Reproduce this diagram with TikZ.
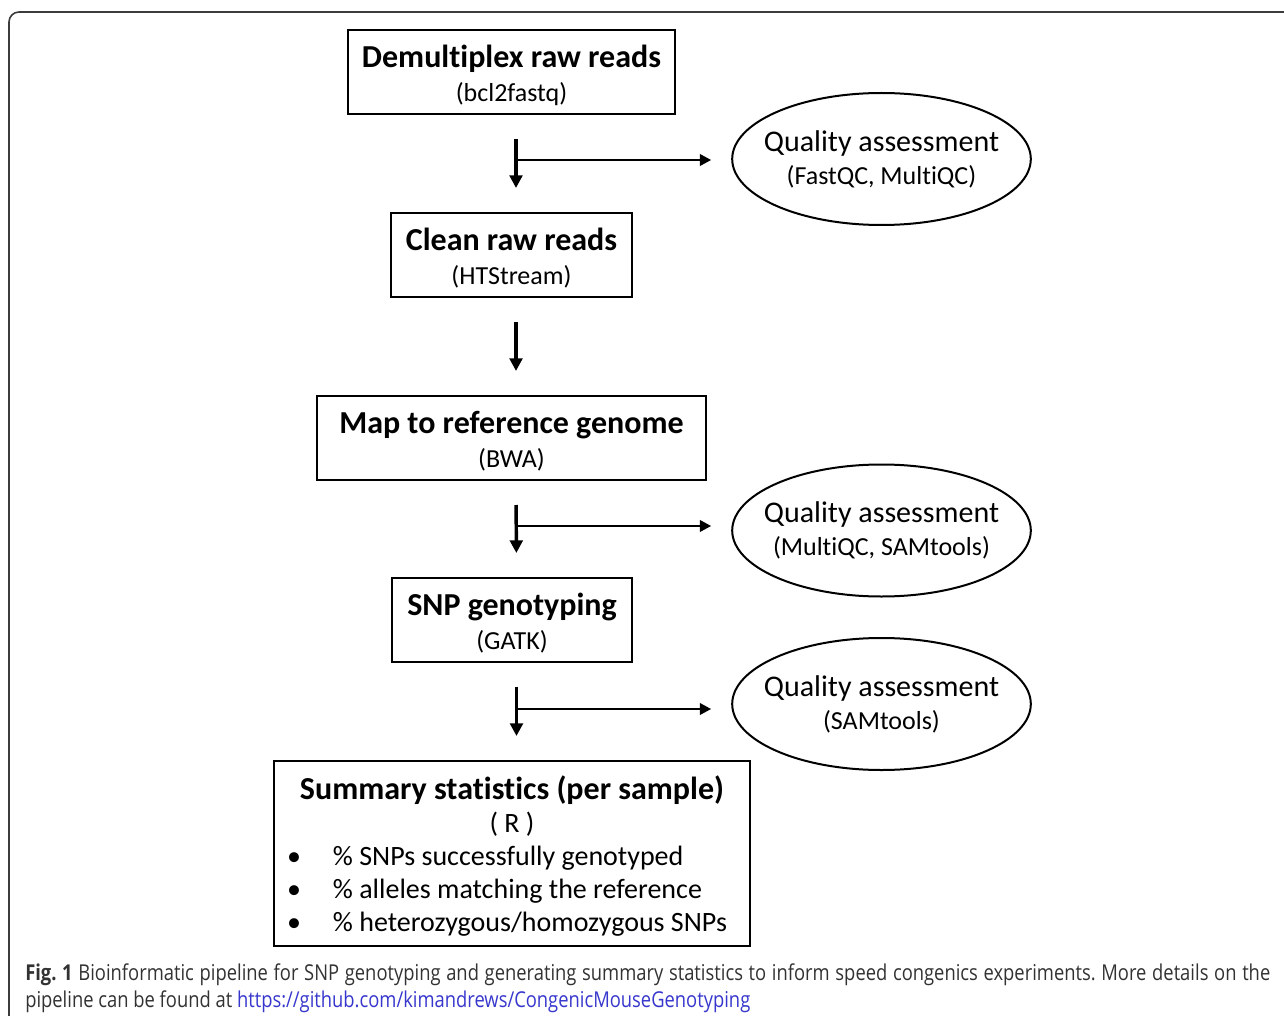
\documentclass[tikz,border=0pt]{standalone}
\usepackage{fontspec}
\setmainfont{Carlito}[Ligatures=NoCommon]
\newfontfamily\capfont[FakeStretch=0.84]{Open Sans}
\usetikzlibrary{
	arrows.meta,
	calc,
	positioning,
	shapes.geometric
}
\frenchspacing
\definecolor{framegray}{RGB}{60,60,60}
\definecolor{capgray}{RGB}{50,50,50}
\definecolor{linkblue}{RGB}{55,55,205}
\tikzset{
	stepbox/.style={draw,line width=1.5pt,rectangle,align=center,inner sep=0pt,minimum height=63pt,font=\fontsize{19.5}{25.5}\selectfont},
	qabox/.style={draw,line width=1.5pt,ellipse,align=center,inner xsep=-9pt,inner ysep=0pt,minimum width=222.75pt,minimum height=99pt,font=\fontsize{19.5}{24.75}\selectfont},
	vflow/.style={line width=2.6pt,-{Triangle[width=9.5pt,length=9.5pt]},shorten <=18pt,shorten >=18pt},
	hflow/.style={line width=2pt,-{Triangle[width=8.5pt,length=8.5pt]},shorten >=15pt},
	captext/.style={align=left,inner sep=0pt,text=capgray,font=\capfont\fontsize{16.4}{20.25}\selectfont}
}
\newcommand{\steptitle}[1]{{\fontsize{24}{25.5}\selectfont\bfseries\rule{0pt}{21.5pt}#1}}
\newcommand{\qatitle}[1]{{\fontsize{22.5}{24.75}\selectfont #1}}

\begin{document}
\begin{tikzpicture}[x=0.75pt,y=-0.75pt]
	\useasboundingbox (0,0) rectangle (1284,1016);
	\begin{scope}
		\clip (0,0) rectangle (1284,1016);
		\draw[framegray,line width=1.2pt,rounded corners=7.5pt] (9,1100) -- (9,12) -- (1400,12);
	\end{scope}
	
	\node (dem)   at (511.5,72)  [stepbox,minimum width=245.25pt] {\steptitle{Demultiplex raw reads}\\(bcl2fastq)};
	\node (clean) at (511.5,255) [stepbox,minimum width=180.75pt] {\steptitle{Clean raw reads}\\(HTStream)};
	\node (map)   at (511.5,438) [stepbox,minimum width=291.75pt] {\steptitle{Map to reference genome}\\(BWA)};
	\node (snp)   at (512,620)   [stepbox,minimum width=180pt]    {\steptitle{SNP genotyping}\\(GATK)};
	\node (summ)  at (512,853.5) [draw,line width=1.5pt,rectangle,inner sep=0pt,minimum width=357pt,minimum height=138.75pt,font=\fontsize{21}{24.75}\selectfont]
		{\begin{tabular}{@{}l@{\hspace{24pt}}l@{\hspace{7.5pt}}}
			\multicolumn{2}{c}{{\fontsize{24}{25.5}\selectfont\bfseries\rule{0pt}{25pt}Summary statistics (per sample)}}\\
			\multicolumn{2}{c}{( R )}\\
			\textbullet & \% SNPs successfully genotyped\\
			\textbullet & \% alleles matching the reference\\
			\textbullet & \% heterozygous/homozygous SNPs
		\end{tabular}};
	
	\node (qa1) at (881.5,159)   [qabox] {\qatitle{Quality assessment}\\(FastQC, MultiQC)};
	\node (qa2) at (881.5,530.5) [qabox] {\qatitle{Quality assessment}\\(MultiQC, SAMtools)};
	\node (qa3) at (881.5,704)   [qabox] {\qatitle{Quality assessment}\\(SAMtools)};
	
	\draw[vflow] ([xshift=3.375pt]dem.south)   -- ([xshift=3.375pt]clean.north);
	\draw[vflow] ([xshift=3.375pt]clean.south) -- ([xshift=3.375pt]map.north);
	\draw[vflow] ([xshift=3.375pt]map.south)   -- ([xshift=3.375pt]snp.north);
	\draw[vflow] ([xshift=3.375pt]snp.south)   -- ([xshift=3.375pt]summ.north);
	
	\coordinate (j1) at (516,160);
	\coordinate (j2) at (516,526);
	\coordinate (j3) at (516,709);
	\draw[hflow] (j1) -- (j1 -| qa1.west);
	\draw[hflow] (j2) -- (j2 -| qa2.west);
	\draw[hflow] (j3) -- (j3 -| qa3.west);
	
	\node (cap) at (25,963) [captext,anchor=north west]
		{\makebox[933.75pt][s]{\textbf{Fig. 1} Bioinformatic pipeline for SNP genotyping and generating summary statistics to inform speed congenics experiments. More details on the}\\
		pipeline can be found at \textcolor{linkblue}{https://github.com/kimandrews/CongenicMouseGenotyping}};
\end{tikzpicture}
\end{document}
